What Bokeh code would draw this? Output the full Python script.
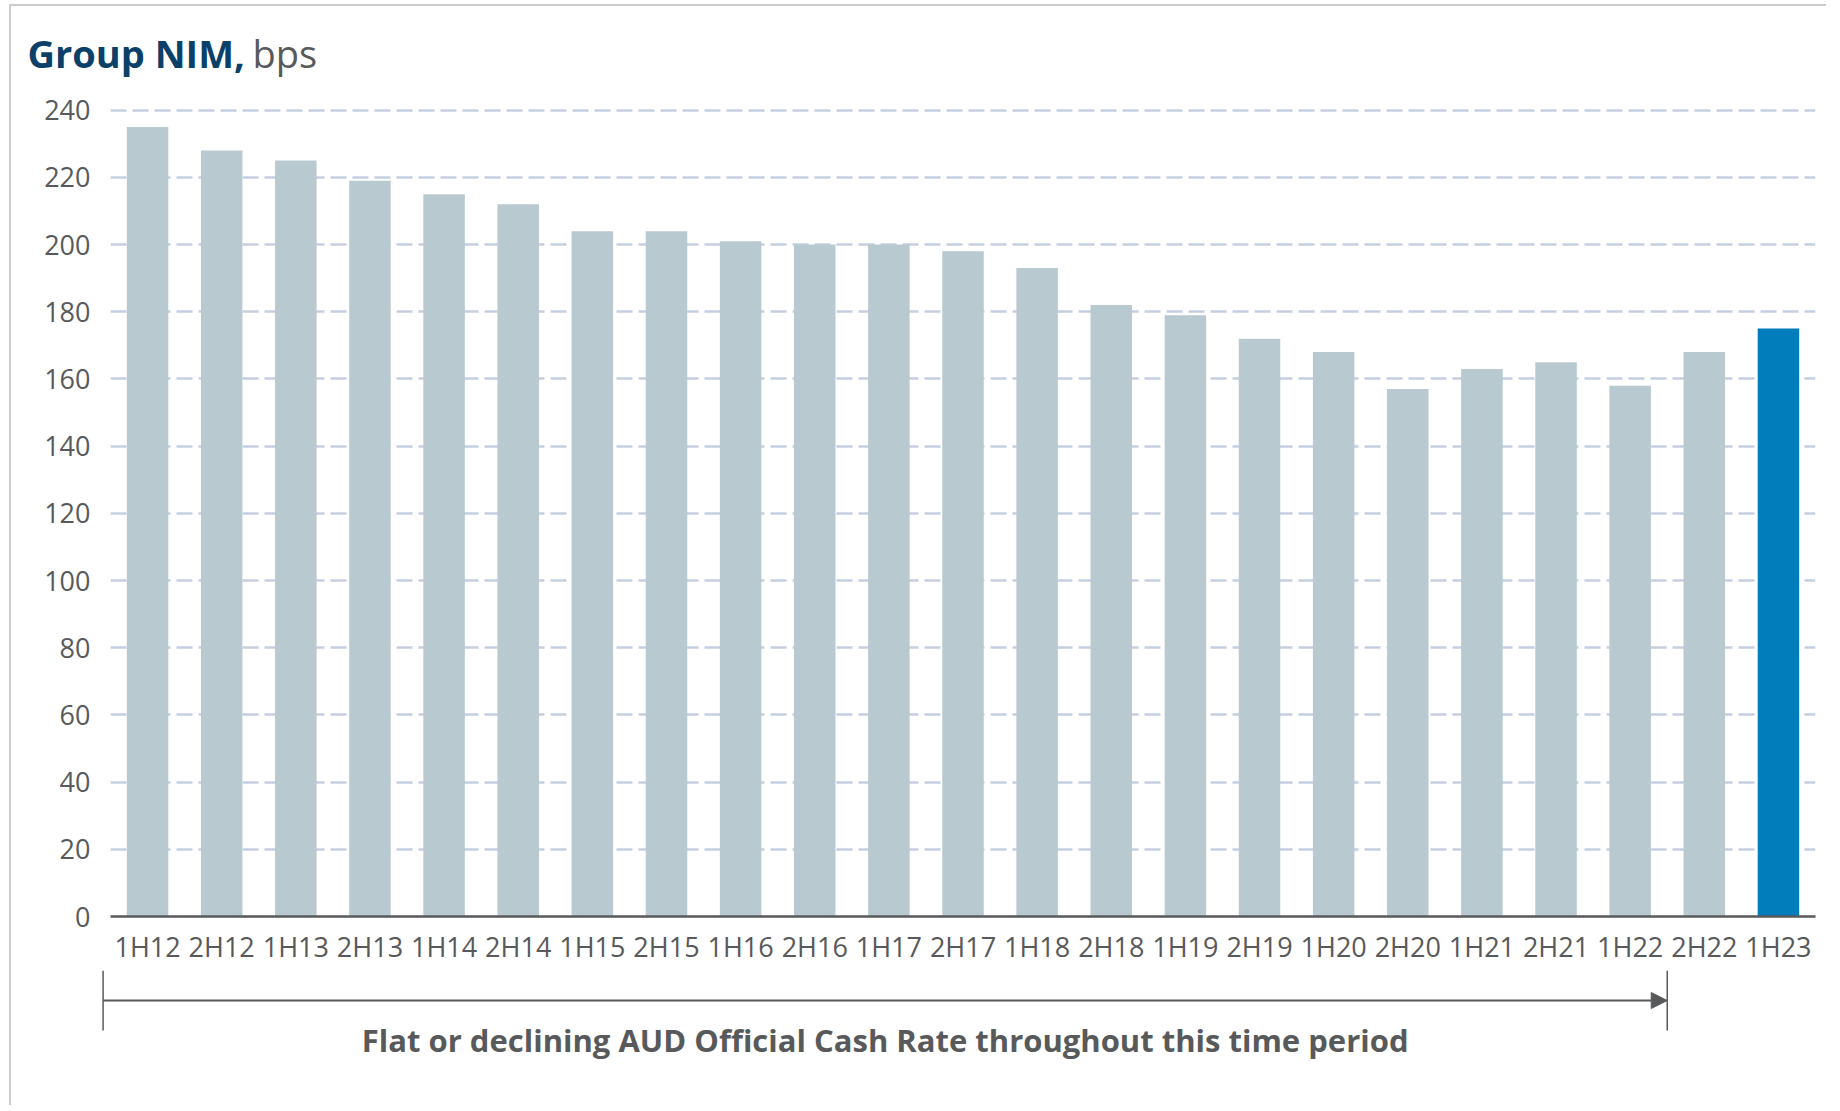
from bokeh.plotting import figure
from bokeh.models import (ColumnDataSource, FactorRange, Range1d, FixedTicker,
                          Arrow, NormalHead)
from bokeh.layouts import column
from bokeh.core.properties import value
from bokeh.embed import file_html
from bokeh.resources import INLINE

periods = ["1H12", "2H12", "1H13", "2H13", "1H14", "2H14", "1H15", "2H15", "1H16", "2H16",
           "1H17", "2H17", "1H18", "2H18", "1H19", "2H19", "1H20", "2H20", "1H21", "2H21",
           "1H22", "2H22", "1H23"]
nim_bps = [235, 228, 225, 219, 215, 212, 204, 204, 201, 200,
           200, 198, 193, 182, 179, 172, 168, 157, 163, 165,
           158, 168, 175]
highlight_period = "1H23"
y_ticks = [0, 20, 40, 60, 80, 100, 120, 140, 160, 180, 200, 220, 240]
title_main = "Group NIM,"
title_unit = "bps"
note_text = "Flat or declining AUD Official Cash Rate throughout this time period"
arrow_from_period = "1H12"
arrow_to_period = "1H22"

GREY_BAR = "#B8C9D0"
BLUE_BAR = "#007DBA"
TEXT = "#58595B"
NAVY = "#0B4168"
GRID = "#C6CFE1"
FRAME = "#CBCBCB"
FONT = "Open Sans"

W = 1815            # width of each stacked figure
ML, MR = 99, 11     # left / right borders of the bar frame
n = len(periods)
pitch = (W - ML - MR) / n

def bare(fig):
    fig.outline_line_color = None
    fig.axis.visible = False
    fig.grid.grid_line_color = None
    fig.background_fill_color = "white"
    fig.border_fill_color = "white"
    fig.frame_align = False

# ---------- title strip ----------
TH = 73
pt = figure(width=W, height=TH, x_range=Range1d(0, W), y_range=Range1d(TH, 0),
            output_backend="svg", toolbar_location=None,
            min_border_left=0, min_border_right=0, min_border_top=0, min_border_bottom=0)
bare(pt)
pt.text(x=[16], y=[46], text=[title_main], text_font=value(FONT), text_font_size="38px",
        text_font_style="bold", text_color=NAVY, text_baseline="alphabetic", text_align="left")
pt.text(x=[241], y=[46], text=[title_unit], text_font=value(FONT), text_font_size="38px",
        text_color=TEXT, text_baseline="alphabetic", text_align="left")

# ---------- bar chart ----------
colors = [BLUE_BAR if c == highlight_period else GREY_BAR for c in periods]
src = ColumnDataSource(dict(x=periods, top=nim_bps, color=colors))

y_end = 242
px_per_unit = 806.5 / 240
MB = 54
MT = 24
MH = MT + int(round(y_end * px_per_unit)) + MB
p = figure(width=W, height=MH, x_range=FactorRange(factors=periods),
           y_range=Range1d(0, y_end), output_backend="svg", toolbar_location=None,
           min_border_left=ML, min_border_right=MR, min_border_top=MT, min_border_bottom=MB)
p.outline_line_color = None
p.background_fill_color = "white"
p.border_fill_color = "white"

p.vbar(x="x", top="top", width=0.56, source=src, fill_color="color", line_color=None)

p.xaxis.axis_line_color = TEXT
p.xaxis.axis_line_width = 2.5
p.xaxis.major_tick_line_color = None
p.xaxis.minor_tick_line_color = None
p.xaxis.major_label_text_font = FONT
p.xaxis.major_label_text_font_size = "27px"
p.xaxis.major_label_text_color = TEXT
p.xaxis.major_label_standoff = 5

p.yaxis.ticker = FixedTicker(ticks=y_ticks)
p.yaxis.axis_line_color = None
p.yaxis.major_tick_line_color = None
p.yaxis.minor_tick_line_color = None
p.yaxis.major_tick_out = 0
p.yaxis.major_label_text_font = FONT
p.yaxis.major_label_text_font_size = "27px"
p.yaxis.major_label_text_color = TEXT
p.yaxis.major_label_standoff = 20

p.xgrid.grid_line_color = None
p.ygrid.grid_line_color = GRID
p.ygrid.grid_line_width = 2.5
p.ygrid.grid_line_dash = "16 6"

# ---------- note strip with arrow ----------
NH = 135
x0 = -ML / pitch
x1 = n + MR / pitch
pn = figure(width=W, height=NH, x_range=Range1d(x0, x1), y_range=Range1d(NH, 0),
            output_backend="svg", toolbar_location=None,
            min_border_left=0, min_border_right=0, min_border_top=0, min_border_bottom=0)
bare(pn)
i0 = periods.index(arrow_from_period)
i1 = periods.index(arrow_to_period)
xa0 = i0 - 0.1
xa1 = i1 + 1.0
ya = 30
pn.add_layout(Arrow(x_start=xa0, y_start=ya, x_end=xa1, y_end=ya, line_color=TEXT,
                    line_width=2, start=None,
                    end=NormalHead(size=16, fill_color=TEXT, line_color=TEXT)))
pn.segment(x0=[xa0, xa1], y0=[0, 0], x1=[xa0, xa1], y1=[60, 60],
           line_color=TEXT, line_width=1.5)
pn.text(x=[(xa0 + xa1) / 2], y=[69], text=[note_text], text_font=value(FONT),
        text_font_size="31px", text_font_style="bold", text_color=TEXT,
        text_baseline="alphabetic", text_align="center")

layout = column(pt, p, pn, spacing=0,
                styles={"border-top": f"2px solid {FRAME}", "border-left": f"2px solid {FRAME}",
                        "margin-left": "9px", "margin-top": "4px"})

open("out.html", "w").write(file_html(layout, INLINE))
